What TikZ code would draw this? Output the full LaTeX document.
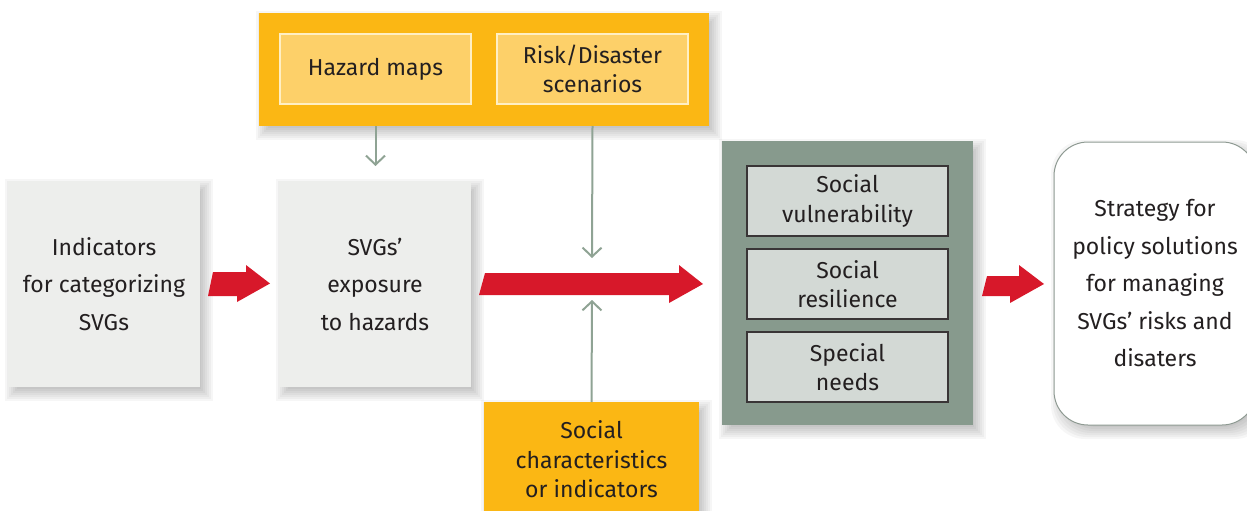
\documentclass[tikz,border=0pt]{standalone}
\usepackage{fontspec}
\setmainfont{Fira Sans}
\usetikzlibrary{arrows.meta,backgrounds}
\definecolor{orng}{HTML}{FBB714}
\definecolor{lorng}{HTML}{FDD069}
\definecolor{lorngb}{HTML}{FFEFC4}
\definecolor{lgray}{HTML}{EDEEEC}
\definecolor{ggreen}{HTML}{879A8D}
\definecolor{gbox}{HTML}{D3D9D5}
\definecolor{redar}{HTML}{D7182A}
\definecolor{linec}{HTML}{8FA394}
\definecolor{txt}{HTML}{231F20}
\definecolor{stratb}{HTML}{8E9A92}
\newcommand\mkshadow[2][]{%
  \foreach \e in {-4,-2,...,8}{%
    \fill[black,opacity=0.035,#1] ([xshift={5pt-(\e)*1pt},yshift={-6pt+(\e)*1pt}]#2.north west) rectangle ([xshift={5pt+(\e)*1pt},yshift={-6pt-(\e)*1pt}]#2.south east);}}
\begin{document}
\begin{tikzpicture}[x=1pt,y=-1pt,
  box/.style={anchor=north west, inner sep=0pt, outer sep=0pt, align=center, text=txt},
  bigtext/.style={box, font=\fontsize{23}{37.5}\selectfont},
  smalltext/.style={box, font=\fontsize{23}{29.5}\selectfont},
  ybox/.style={smalltext, fill=lorng, draw=lorngb, line width=1.2pt, minimum width=191, minimum height=70},
  gsub/.style={smalltext, fill=gbox, draw=txt!90, line width=1.3pt, minimum width=201, minimum height=70},
  garrow/.style={draw=linec, line width=2pt, -{Straight Barb[length=9pt,width=19pt]}},
  redarrow/.style={fill=redar}
]
\useasboundingbox (0,0) rectangle (1247,511);

% main boxes
\node[box, fill=orng, minimum width=450, minimum height=113] (top) at (259,13) {};
\node[ybox] (hz) at (280,34) {Hazard maps};
\node[ybox] (rd) at (497,34) {Risk/Disaster\\scenarios};

\node[bigtext, fill=lgray, minimum width=192, minimum height=206] (ind) at (8,181) {Indicators\\for categorizing\\SVGs};
\node[bigtext, fill=lgray, minimum width=192, minimum height=206] (exp) at (279,181) {SVGs'\\exposure\\to hazards};

\node[box, fill=ggreen, minimum width=251, minimum height=284] (gbig) at (722,141) {};
\node[gsub] (sv) at (747,166) {Social\\vulnerability};
\node[gsub] (sr) at (747,249) {Social\\resilience};
\node[gsub] (sn) at (747,332) {Special\\needs};

\node[bigtext, fill=white, draw=stratb, line width=1pt, rounded corners=34pt, minimum width=202, minimum height=283] (strat) at (1054,142) {Strategy for\\policy solutions\\for managing\\SVGs' risks and\\disaters};

\node[smalltext, fill=orng, minimum width=215, minimum height=115] (soc) at (484,402) {Social\\characteristics\\or indicators};

% shadows
\begin{scope}[on background layer]
  \mkshadow{top}
  \mkshadow{ind}
  \mkshadow{exp}
  \mkshadow{gbig}
  \mkshadow[rounded corners=34pt]{strat}
  \mkshadow{soc}
\end{scope}

% grey connectors
\coordinate (c1) at (375.5,166);
\coordinate (c2) at (592,258);
\coordinate (c3) at (592,300);
\draw[garrow] (top.south -| hz.south) -- (c1);
\draw[garrow] (top.south -| rd.south) -- (c2);
\draw[garrow] (soc.north) -- (c3);

% red arrows
\fill[redarrow] (213,272) -- (246,272) -- (246,265) -- (270,283.5) -- (237,302) -- (237,296) -- (208,296) -- cycle;
\fill[redarrow] (485,273) -- (679,273) -- (679,265) -- (703,284) -- (669,303) -- (669,295) -- (479,295) -- cycle;
\fill[redarrow] (987,276) -- (1019,276) -- (1019,265) -- (1044,284) -- (1010,303) -- (1010,296) -- (982,296) -- cycle;
\end{tikzpicture}
\end{document}
